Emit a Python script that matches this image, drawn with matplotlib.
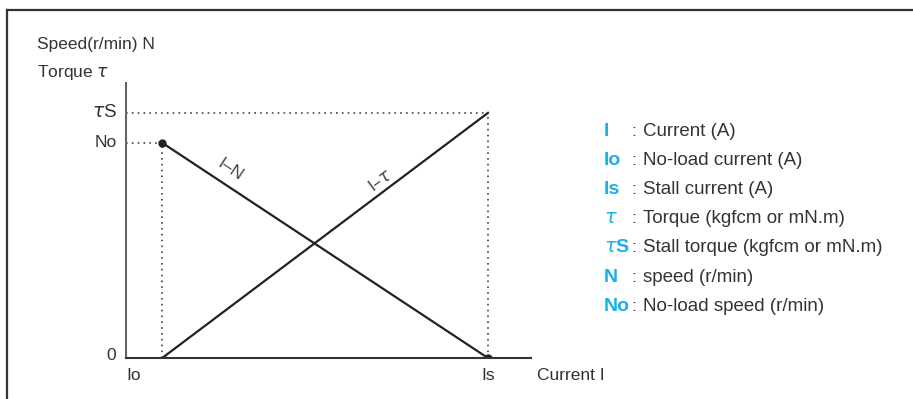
import matplotlib
matplotlib.use("Agg")
import matplotlib.pyplot as plt
from matplotlib.lines import Line2D

plt.rcParams['font.family'] = ['Liberation Sans', 'DejaVu Sans']

# characteristic values (relative units)
Io = 1.0          # no-load current
Is = 10.0         # stall current
No = 87.8         # no-load speed
Ts = 100.0        # stall torque

current = [Io, Is]
speed = [No, 0.0]
torque = [0.0, Ts]

legend_keys = ["I", "Io", "Is", r"$\tau$", r"$\tau$S", "N", "No"]
legend_text = ["Current (A)", "No-load current (A)", "Stall current (A)",
               "Torque (kgfcm or mN.m)", "Stall torque (kgfcm or mN.m)",
               "speed (r/min)", "No-load speed (r/min)"]

W, H = 913, 399
fig = plt.figure(figsize=(W / 100, H / 100), dpi=100)

# outer frame (top and left edge only)
fig.add_artist(Line2D([7 / W, 1], [1 - 10 / H, 1 - 10 / H], color="#333333", lw=1.6))
fig.add_artist(Line2D([7 / W, 7 / W], [0, 1 - 10 / H], color="#333333", lw=1.6))

# axes box: origin at px (126, 358), x to 531, y to 83
ax = fig.add_axes([126 / W, (H - 358) / H, (531 - 126) / W, (358 - 83) / H])
ax.set_xlim(0, 11.19)
ax.set_ylim(0, 112.2)
for s in ["top", "right"]:
    ax.spines[s].set_visible(False)
ax.spines["left"].set_color("#666666")
ax.spines["bottom"].set_color("#333333")
ax.spines["left"].set_linewidth(1.5)
ax.spines["bottom"].set_linewidth(1.5)
ax.set_xticks([])
ax.set_yticks([])
ax.patch.set_alpha(0)

dot = dict(color="#444444", lw=1.2, ls=(0, (1, 2.5)))
ax.plot([0, Is], [Ts, Ts], **dot)
ax.plot([0, Io], [No, No], **dot)
ax.plot([Io, Io], [0, No], **dot)
ax.plot([Is, Is], [0, Ts], **dot)

ax.plot(current, speed, color="#222222", lw=1.6)
ax.plot(current, torque, color="#222222", lw=1.6)
ax.plot(current, speed, "o", color="#222222", ms=5)

tc = "#333333"
fs = 12.5
ax.text(2.87, 77.0, "I–N", rotation=-33.5, ha="center", va="center",
        fontsize=fs, color="#444444", rotation_mode="anchor")
ax.text(7.02, 72.5, r"I–$\tau$", rotation=36.5, ha="center", va="center",
        fontsize=fs, color="#444444", rotation_mode="anchor")

ax.text(-0.28, 1.2, "0", ha="right", va="center", fontsize=fs, color=tc)
ax.text(-0.25, No, "No", ha="right", va="center", fontsize=fs, color=tc)
ax.text(-0.25, Ts, r"$\tau$S", ha="right", va="center", fontsize=fs + 1, color=tc)
ax.text(0, -7.3, "Io", ha="left", va="center", fontsize=fs, color=tc)
ax.text(Is, -7.3, "Is", ha="center", va="center", fontsize=fs, color=tc)
ax.text(11.35, -7.3, "Current I", ha="left", va="center", fontsize=fs, color=tc)

fig.text(37 / W, 1 - 45 / H, "Speed(r/min) N", ha="left", va="center", fontsize=fs, color=tc)
fig.text(37 / W, 1 - 72 / H, r"Torque $\tau$", ha="left", va="center", fontsize=fs, color=tc)

key_color = "#1ab0e8"
for i, (k, t) in enumerate(zip(legend_keys, legend_text)):
    y = 1 - (131 + i * 29.2) / H
    fig.text(604 / W, y, k, ha="left", va="center", fontsize=fs + 1.5,
             color=key_color, fontweight="bold")
    fig.text(631 / W, y, ":", ha="left", va="center", fontsize=fs, color=tc)
    fig.text(643 / W, y, t, ha="left", va="center", fontsize=fs + 1, color=tc)

fig.savefig("out.png", dpi=100)
